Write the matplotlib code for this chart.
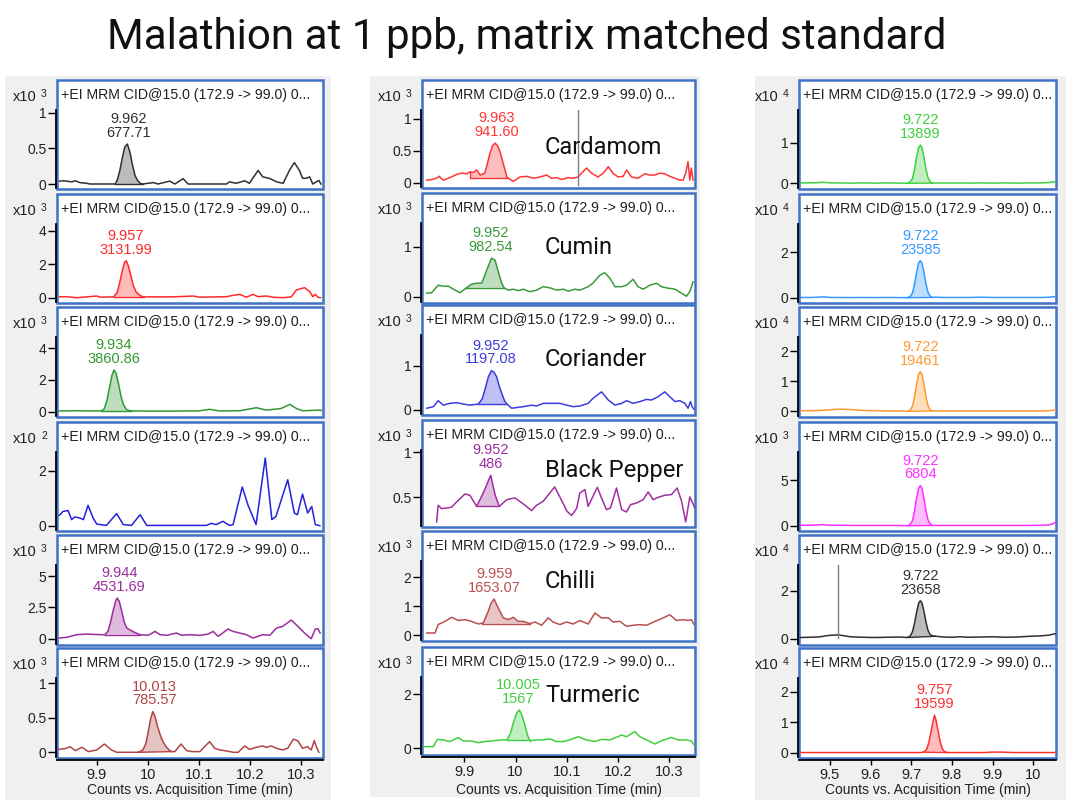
import numpy as np
import matplotlib
matplotlib.use("Agg")
import matplotlib.pyplot as plt
from matplotlib.patches import Rectangle

# ---------------------------------------------------------------- data
title = "Malathion at 1 ppb, matrix matched standard"
header = "+EI MRM CID@15.0 (172.9 -> 99.0) 0..."
xlabel = "Counts vs. Acquisition Time (min)"
spices = ["Cardamom", "Cumin", "Coriander", "Black Pepper", "Chilli", "Turmeric"]

xticks_lm = [9.9, 10.0, 10.1, 10.2, 10.3]
xticklabels_lm = ["9.9", "10", "10.1", "10.2", "10.3"]
xticks_r = [9.5, 9.6, 9.7, 9.8, 9.9, 10.0]
xticklabels_r = ["9.5", "9.6", "9.7", "9.8", "9.9", "10"]

# ---- left column
t_L1 = [9.827, 9.835, 9.841, 9.851, 9.858, 9.867, 9.880, 9.887, 9.936, 9.940, 9.945, 9.950, 9.955, 9.960,
        9.965, 9.970, 9.975, 9.980, 9.985, 9.990, 10.011, 10.020, 10.043, 10.053, 10.069, 10.079, 10.154,
        10.160, 10.173, 10.190, 10.199, 10.216, 10.225, 10.238, 10.252, 10.265, 10.278, 10.287, 10.297,
        10.303, 10.310, 10.317, 10.323, 10.330, 10.335, 10.339]
y_L1 = [0.04, 0.045, 0.04, 0.03, 0.045, 0.02, 0.01, 0.0, 0.0, 0.05, 0.18, 0.36, 0.52, 0.56, 0.45, 0.27,
        0.12, 0.05, 0.01, 0.0, 0.02, 0.0, 0.04, 0.0, 0.075, 0.0, 0.0, 0.03, 0.01, 0.045, 0.01, 0.19, 0.10,
        0.08, 0.03, 0.01, 0.20, 0.30, 0.19, 0.08, 0.08, 0.10, 0.0, 0.03, 0.05, 0.0]

t_L2 = [9.827, 9.841, 9.861, 9.900, 9.907, 9.933, 9.940, 9.945, 9.950, 9.955, 9.958, 9.962, 9.967, 9.972,
        9.977, 9.982, 9.987, 9.992, 10.004, 10.050, 10.089, 10.102, 10.154, 10.167, 10.180, 10.193, 10.206,
        10.216, 10.232, 10.245, 10.264, 10.281, 10.291, 10.307, 10.317, 10.323, 10.328, 10.333, 10.338]
y_L2 = [0.05, 0.06, 0.0, 0.10, 0.03, 0.05, 0.3, 0.9, 1.6, 2.15, 2.2, 1.9, 1.3, 0.7, 0.35, 0.2, 0.1, 0.05,
        0.05, 0.05, 0.10, 0.03, 0.06, 0.14, 0.20, 0.03, 0.20, 0.06, 0.10, 0.03, 0.0, 0.05, 0.46, 0.60, 0.36,
        0.06, 0.2, 0.03, 0.0]

t_L3 = [9.827, 9.86, 9.89, 9.905, 9.910, 9.915, 9.920, 9.925, 9.930, 9.934, 9.938, 9.943, 9.948, 9.953,
        9.958, 9.963, 9.968, 10.0, 10.05, 10.10, 10.121, 10.14, 10.18, 10.2125, 10.232, 10.261, 10.278,
        10.291, 10.303, 10.336, 10.34]
y_L3 = [0.05, 0.06, 0.05, 0.05, 0.05, 0.2, 0.7, 1.5, 2.3, 2.62, 2.4, 1.7, 0.9, 0.4, 0.15, 0.08, 0.05, 0.04,
        0.04, 0.05, 0.15, 0.05, 0.06, 0.25, 0.1, 0.2, 0.46, 0.2, 0.06, 0.1, 0.08]

t_L4 = [9.827, 9.834, 9.844, 9.851, 9.857, 9.867, 9.874, 9.883, 9.893, 9.900, 9.919, 9.939, 9.952, 9.968,
        9.985, 9.998, 10.115, 10.124, 10.134, 10.147, 10.160, 10.167, 10.185, 10.196, 10.212, 10.230,
        10.243, 10.251, 10.274, 10.287, 10.293, 10.303, 10.313, 10.321, 10.328, 10.337]
y_L4 = [0.38, 0.52, 0.55, 0.22, 0.32, 0.28, 0.22, 0.74, 0.28, 0.06, 0.01, 0.44, 0.04, 0.01, 0.40, 0.01,
        0.01, 0.085, 0.04, 0.16, 0.01, 0.04, 1.41, 0.76, 0.04, 2.46, 0.22, 0.34, 1.67, 0.46, 0.40, 1.15,
        0.46, 0.70, 0.04, 0.0]

t_L5 = [9.827, 9.841, 9.861, 9.880, 9.907, 9.916, 9.922, 9.927, 9.932, 9.937, 9.940, 9.944, 9.949, 9.954,
        9.959, 9.965, 9.972, 9.980, 9.985, 10.001, 10.014, 10.024, 10.037, 10.056, 10.066, 10.082, 10.102,
        10.118, 10.128, 10.1375, 10.144, 10.157, 10.167, 10.180, 10.193, 10.206, 10.225, 10.239, 10.252,
        10.264, 10.281, 10.294, 10.307, 10.320, 10.328, 10.333, 10.3375]
y_L5 = [0.05, 0.11, 0.32, 0.37, 0.32, 0.32, 0.6, 1.3, 2.2, 3.0, 3.24, 3.0, 2.2, 1.3, 0.85, 0.7, 0.55, 0.4,
        0.32, 0.27, 0.58, 0.32, 0.27, 0.45, 0.27, 0.32, 0.27, 0.37, 0.58, 0.19, 0.37, 0.77, 0.58, 0.45,
        0.32, 0.05, 0.32, 0.27, 0.85, 0.98, 1.49, 0.98, 0.45, 0.0, 0.77, 0.8, 0.45]

t_L6 = [9.827, 9.841, 9.848, 9.858, 9.871, 9.884, 9.900, 9.915, 9.929, 9.939, 9.981, 9.990, 9.996, 10.001,
        10.006, 10.010, 10.014, 10.019, 10.024, 10.030, 10.036, 10.042, 10.047, 10.053, 10.065, 10.076,
        10.086, 10.102, 10.121, 10.131, 10.141, 10.154, 10.167, 10.177, 10.190, 10.199, 10.2125, 10.225,
        10.232, 10.242, 10.252, 10.264, 10.274, 10.285, 10.294, 10.303, 10.313, 10.320, 10.326, 10.330,
        10.335]
y_L6 = [0.043, 0.058, 0.082, 0.024, 0.072, 0.01, 0.034, 0.12, 0.034, 0.0, 0.0, 0.03, 0.12, 0.3, 0.5, 0.59,
        0.52, 0.38, 0.26, 0.15, 0.08, 0.03, 0.01, 0.01, 0.12, 0.024, 0.01, 0.01, 0.155, 0.058, 0.034, 0.02,
        0.0, 0.0, 0.092, 0.043, 0.072, 0.092, 0.072, 0.092, 0.058, 0.034, 0.058, 0.19, 0.165, 0.058, 0.082,
        0.034, 0.17, 0.082, 0.0]

# ---- middle column
t_M1 = [9.8267, 9.8364, 9.846, 9.851, 9.859, 9.872, 9.885, 9.895, 9.905, 9.911, 9.9175, 9.924, 9.931,
        9.940, 9.945, 9.950, 9.955, 9.960, 9.965, 9.970, 9.976, 9.983, 9.986, 9.9955, 10.0086, 10.0216,
        10.0345, 10.0476, 10.0606, 10.070, 10.080, 10.090, 10.103, 10.1125, 10.122, 10.129, 10.1385,
        10.148, 10.161, 10.171, 10.181, 10.190, 10.200, 10.210, 10.2166, 10.2263, 10.239, 10.252, 10.262,
        10.272, 10.2817, 10.291, 10.301, 10.311, 10.3206, 10.327, 10.332, 10.3366, 10.340, 10.343, 10.3464]
y_M1 = [0.04, 0.05, 0.07, 0.10, 0.04, 0.08, 0.13, 0.15, 0.14, 0.17, 0.16, 0.20, 0.12, 0.15, 0.30, 0.46,
        0.58, 0.62, 0.58, 0.48, 0.30, 0.09, 0.07, 0.02, 0.09, 0.10, 0.07, 0.09, 0.12, 0.07, 0.08, 0.05, 0.08,
        0.07, 0.09, 0.15, 0.23, 0.15, 0.09, 0.15, 0.25, 0.15, 0.09, 0.10, 0.20, 0.09, 0.07, 0.14, 0.12, 0.12,
        0.15, 0.14, 0.10, 0.07, 0.04, 0.04, 0.15, 0.33, 0.04, 0.23, 0.04]

t_M2 = [9.8267, 9.8364, 9.849, 9.859, 9.869, 9.8786, 9.8916, 9.9033, 9.914, 9.924, 9.934, 9.9437, 9.953,
        9.960, 9.9663, 9.973, 9.9774, 9.986, 9.9955, 10.005, 10.0153, 10.028, 10.041, 10.054, 10.070,
        10.080, 10.093, 10.103, 10.116, 10.1255, 10.1417, 10.151, 10.1645, 10.174, 10.1841, 10.194, 10.207,
        10.2166, 10.2295, 10.239, 10.249, 10.262, 10.275, 10.2848, 10.2977, 10.311, 10.324, 10.3335,
        10.340, 10.3464]
y_M2 = [0.07, 0.08, 0.23, 0.21, 0.21, 0.15, 0.08, 0.17, 0.25, 0.27, 0.27, 0.53, 0.77, 0.73, 0.50, 0.27,
        0.18, 0.13, 0.15, 0.12, 0.15, 0.10, 0.13, 0.20, 0.17, 0.13, 0.15, 0.11, 0.15, 0.13, 0.20, 0.27, 0.43,
        0.48, 0.37, 0.20, 0.20, 0.23, 0.35, 0.20, 0.15, 0.23, 0.27, 0.20, 0.17, 0.15, 0.07, 0.01, 0.10, 0.30]

t_M3 = [9.8267, 9.8396, 9.849, 9.859, 9.872, 9.885, 9.898, 9.911, 9.9273, 9.935, 9.940, 9.947, 9.953,
        9.958, 9.963, 9.968, 9.973, 9.978, 9.983, 9.9924, 10.005, 10.0153, 10.0314, 10.041, 10.054, 10.070,
        10.0865, 10.0995, 10.1125, 10.1255, 10.1417, 10.151, 10.1677, 10.181, 10.194, 10.207, 10.2166,
        10.2295, 10.2425, 10.2555, 10.2652, 10.2782, 10.291, 10.301, 10.311, 10.3206, 10.3303, 10.3366,
        10.3413, 10.3445, 10.3484]
y_M3 = [0.04, 0.075, 0.21, 0.11, 0.15, 0.165, 0.135, 0.11, 0.135, 0.25, 0.45, 0.75, 0.89, 0.85, 0.75, 0.55,
        0.38, 0.22, 0.135, 0.04, 0.06, 0.075, 0.11, 0.09, 0.15, 0.15, 0.15, 0.11, 0.075, 0.09, 0.15, 0.26,
        0.41, 0.225, 0.11, 0.15, 0.21, 0.15, 0.19, 0.24, 0.225, 0.30, 0.41, 0.30, 0.19, 0.21, 0.15, 0.04,
        0.19, 0.075, 0.015]

t_M4 = [9.846, 9.849, 9.8556, 9.8653, 9.875, 9.885, 9.9014, 9.911, 9.924, 9.937, 9.9515, 9.960, 9.968,
        9.983, 9.9988, 10.0153, 10.0314, 10.041, 10.054, 10.0763, 10.0874, 10.1004, 10.1093, 10.1191,
        10.1255, 10.1353, 10.1417, 10.1595, 10.1677, 10.1774, 10.1852, 10.197, 10.207, 10.2166, 10.2243,
        10.236, 10.249, 10.2587, 10.2684, 10.2782, 10.291, 10.3043, 10.3153, 10.324, 10.332, 10.340,
        10.3464, 10.3497]
y_M4 = [0.228, 0.412, 0.375, 0.382, 0.39, 0.449, 0.537, 0.522, 0.40, 0.548, 0.743, 0.53, 0.40, 0.474,
        0.493, 0.426, 0.353, 0.412, 0.456, 0.614, 0.493, 0.346, 0.30, 0.375, 0.548, 0.585, 0.40, 0.61,
        0.493, 0.364, 0.382, 0.603, 0.364, 0.338, 0.419, 0.437, 0.474, 0.559, 0.474, 0.5, 0.522, 0.53,
        0.603, 0.456, 0.228, 0.504, 0.426, 0.382]

t_M5 = [9.8267, 9.8429, 9.849, 9.8624, 9.875, 9.8883, 9.9014, 9.914, 9.9273, 9.937, 9.9468, 9.952, 9.9579,
        9.962, 9.9663, 9.976, 9.986, 9.9955, 10.005, 10.0153, 10.028, 10.0378, 10.0509, 10.0637, 10.073,
        10.0865, 10.0995, 10.1125, 10.1255, 10.1417, 10.1548, 10.1677, 10.181, 10.190, 10.2035, 10.2166,
        10.2295, 10.2425, 10.2555, 10.272, 10.288, 10.301, 10.314, 10.327, 10.3366, 10.343, 10.3484]
y_M5 = [0.08, 0.08, 0.37, 0.48, 0.62, 0.51, 0.54, 0.48, 0.39, 0.425, 0.83, 1.1, 1.25, 1.1, 0.94, 0.60,
        0.54, 0.62, 0.48, 0.48, 0.40, 0.46, 0.345, 0.60, 0.46, 0.37, 0.46, 0.39, 0.51, 0.39, 0.77, 0.60,
        0.60, 0.46, 0.48, 0.31, 0.345, 0.37, 0.345, 0.48, 0.60, 0.71, 0.51, 0.54, 0.51, 0.54, 0.37]

t_M6 = [9.8214, 9.8396, 9.8474, 9.859, 9.872, 9.8883, 9.898, 9.914, 9.9273, 9.940, 9.9565, 9.973, 9.983,
        9.990, 9.9955, 10.002, 10.0072, 10.012, 10.0183, 10.023, 10.028, 10.041, 10.054, 10.067, 10.080,
        10.093, 10.106, 10.122, 10.1385, 10.1548, 10.1677, 10.1841, 10.197, 10.207, 10.2166, 10.2327,
        10.2425, 10.2555, 10.272, 10.2848, 10.3043, 10.3173, 10.3335, 10.343, 10.3484]
y_M6 = [0.06, 0.06, 0.33, 0.31, 0.25, 0.40, 0.27, 0.27, 0.21, 0.25, 0.28, 0.31, 0.31, 0.55, 0.93, 1.3,
        1.42, 1.25, 0.86, 0.5, 0.28, 0.31, 0.31, 0.35, 0.25, 0.25, 0.31, 0.43, 0.31, 0.25, 0.33, 0.31, 0.41,
        0.49, 0.43, 0.62, 0.43, 0.31, 0.16, 0.28, 0.40, 0.31, 0.31, 0.27, 0.12]

# ---- right column
t_right = [9.428, 9.45, 9.47, 9.48, 9.49, 9.50, 9.52, 9.55, 9.58, 9.61, 9.64, 9.67, 9.690, 9.697, 9.703,
           9.708, 9.713, 9.718, 9.722, 9.726, 9.731, 9.736, 9.741, 9.746, 9.752, 9.76, 9.78, 9.80, 9.82,
           9.84, 9.87, 9.90, 9.93, 9.96, 9.99, 10.02, 10.04, 10.048, 10.054]
y_R1 = [0.01, 0.01, 0.015, 0.025, 0.02, 0.01, 0.01, 0.005, 0.01, 0.005, 0.01, 0.005, 0.0, 0.03, 0.12, 0.35,
        0.65, 0.88, 0.94, 0.88, 0.65, 0.35, 0.14, 0.04, 0.005, 0.005, 0.01, 0.005, 0.01, 0.005, 0.01, 0.005,
        0.01, 0.005, 0.01, 0.01, 0.02, 0.04, 0.02]
y_R2 = [0.01, 0.01, 0.02, 0.04, 0.03, 0.01, 0.01, 0.005, 0.01, 0.005, 0.01, 0.005, 0.0, 0.05, 0.21, 0.60,
        1.12, 1.52, 1.62, 1.52, 1.12, 0.60, 0.24, 0.07, 0.01, 0.02, 0.01, 0.01, 0.01, 0.01, 0.02, 0.01, 0.01,
        0.01, 0.01, 0.01, 0.02, 0.05, 0.03]
y_R3 = [0.02, 0.02, 0.025, 0.03, 0.04, 0.05, 0.07, 0.06, 0.03, 0.02, 0.01, 0.01, 0.0, 0.04, 0.17, 0.49,
        0.91, 1.24, 1.32, 1.24, 0.91, 0.49, 0.19, 0.05, 0.01, 0.01, 0.01, 0.01, 0.01, 0.01, 0.01, 0.01, 0.01,
        0.01, 0.01, 0.01, 0.02, 0.04, 0.03]
y_R4 = [0.05, 0.05, 0.08, 0.12, 0.08, 0.05, 0.05, 0.03, 0.03, 0.03, 0.03, 0.03, 0.0, 0.14, 0.57, 1.64,
        3.05, 4.13, 4.41, 4.13, 3.05, 1.64, 0.66, 0.19, 0.03, 0.03, 0.03, 0.03, 0.03, 0.03, 0.03, 0.03, 0.03,
        0.03, 0.03, 0.05, 0.1, 0.2, 0.35]
y_R5 = [0.05, 0.06, 0.07, 0.09, 0.12, 0.14, 0.16, 0.08, 0.06, 0.05, 0.06, 0.07, 0.05, 0.10, 0.30, 0.65,
        1.10, 1.48, 1.58, 1.50, 1.15, 0.70, 0.35, 0.18, 0.12, 0.10, 0.07, 0.06, 0.08, 0.06, 0.07, 0.08, 0.06,
        0.07, 0.10, 0.12, 0.15, 0.19, 0.20]
t_R6 = [9.428, 9.47, 9.52, 9.57, 9.62, 9.67, 9.70, 9.725, 9.732, 9.738, 9.743, 9.748, 9.753, 9.757, 9.761,
        9.766, 9.771, 9.776, 9.781, 9.789, 9.80, 9.85, 9.88, 9.90, 9.92, 9.95, 10.0, 10.054]
y_R6 = [0.005, 0.005, 0.005, 0.005, 0.005, 0.005, 0.005, 0.005, 0.03, 0.12, 0.33, 0.66, 1.0, 1.23, 1.05,
        0.70, 0.36, 0.14, 0.04, 0.005, 0.005, 0.005, 0.005, 0.02, 0.02, 0.005, 0.005, 0.005]

# peak labels (retention time, area)
rt_left = ["9.962", "9.957", "9.934", None, "9.944", "10.013"]
area_left = ["677.71", "3131.99", "3860.86", None, "4531.69", "785.57"]
rt_mid = ["9.963", "9.952", "9.952", "9.952", "9.959", "10.005"]
area_mid = ["941.60", "982.54", "1197.08", "486", "1653.07", "1567"]
rt_right = ["9.722", "9.722", "9.722", "9.722", "9.722", "9.757"]
area_right = ["13899", "23585", "19461", "6804", "23658", "19599"]

# exponent of the y scale (x10^n)
exp_left = [3, 3, 3, 2, 3, 3]
exp_mid = [3, 3, 3, 3, 3, 3]
exp_right = [4, 4, 4, 3, 4, 4]

# ---------------------------------------------------------------- style / layout
W, H = 1069, 800
UI = ["Liberation Sans", "DejaVu Sans"]
NICE = ["Roboto", "DejaVu Sans"]
BOX_BLUE = "#3f72c5"
TXT = "#202020"


def fx(px):
    return px / W


def fy(py):
    return 1 - py / H


COLUMNS = [
    dict(bg=(5, 331, 76, 800), box_x=(57, 323),
         tops=[80, 194, 307, 422, 535, 648], bots=[189, 303, 417, 531, 645, 758],
         xcal=(9.9, 96.7, 10.3, 301.0), xticks=xticks_lm, xticklabels=xticklabels_lm,
         panels=[
             dict(t=t_L1, y=y_L1, c="#303030", exp=exp_left[0], yt=[0, 0.5, 1], ycal=(0, 184, 1, 112.7),
                  win=(9.936, 9.990, 0.0, 0.0), rt=rt_left[0], area=area_left[0]),
             dict(t=t_L2, y=y_L2, c="#ff2a2a", exp=exp_left[1], yt=[0, 2, 4], ycal=(0, 297.7, 4, 230.7),
                  win=(9.933, 9.992, 0.05, 0.05), rt=rt_left[1], area=area_left[1]),
             dict(t=t_L3, y=y_L3, c="#2f9a2f", exp=exp_left[2], yt=[0, 2, 4], ycal=(0, 411.7, 4, 348),
                  win=(9.908, 9.968, 0.05, 0.05), rt=rt_left[2], area=area_left[2]),
             dict(t=t_L4, y=y_L4, c="#2222dd", exp=exp_left[3], yt=[0, 2], ycal=(0, 525.7, 2, 470.7),
                  win=None, rt=rt_left[3], area=area_left[3]),
             dict(t=t_L5, y=y_L5, c="#9a2e9a", exp=exp_left[4], yt=[0, 2.5, 5], ycal=(0, 638.7, 5, 576),
                  win=(9.916, 9.985, 0.32, 0.32), rt=rt_left[4], area=area_left[4]),
             dict(t=t_L6, y=y_L6, c="#b04545", exp=exp_left[5], yt=[0, 0.5, 1], ycal=(0, 752.3, 1, 683.3),
                  win=(9.981, 10.047, 0.0, 0.01), rt=rt_left[5], area=area_left[5]),
         ]),
    dict(bg=(370, 700, 76, 797), box_x=(422, 695),
         tops=[80, 193, 305, 420, 531, 647], bots=[188, 303, 415, 527, 641, 755],
         xcal=(9.9, 464.3, 10.3, 669.3), xticks=xticks_lm, xticklabels=xticklabels_lm,
         panels=[
             dict(t=t_M1, y=y_M1, c="#ff3535", exp=exp_mid[0], yt=[0, 0.5, 1], ycal=(0, 182.7, 1, 119),
                  win=(9.911, 9.986, 0.07, 0.07), rt=rt_mid[0], area=area_mid[0], marker=10.122),
             dict(t=t_M2, y=y_M2, c="#3a9a3a", exp=exp_mid[1], yt=[0, 1], ycal=(0, 296.7, 1, 246.7),
                  win=(9.9033, 9.9774, 0.18, 0.18), rt=rt_mid[1], area=area_mid[1]),
             dict(t=t_M3, y=y_M3, c="#3c3ce0", exp=exp_mid[2], yt=[0, 1], ycal=(0, 410, 1, 365.7),
                  win=(9.9273, 9.983, 0.135, 0.135), rt=rt_mid[2], area=area_mid[2]),
             dict(t=t_M4, y=y_M4, c="#a030a0", exp=exp_mid[3], yt=[0.5, 1], ycal=(0.5, 497.3, 1, 452),
                  win=(9.924, 9.968, 0.40, 0.40), rt=rt_mid[3], area=area_mid[3]),
             dict(t=t_M5, y=y_M5, c="#b85050", exp=exp_mid[4], yt=[0, 1, 2], ycal=(0, 635.3, 2, 577.3),
                  win=(9.935, 10.028, 0.40, 0.40), rt=rt_mid[4], area=area_mid[4]),
             dict(t=t_M6, y=y_M6, c="#3fcf3f", exp=exp_mid[5], yt=[0, 2], ycal=(0, 748.3, 2, 694.3),
                  win=(9.983, 10.028, 0.30, 0.30), rt=rt_mid[5], area=area_mid[5]),
         ]),
    dict(bg=(755, 1066, 76, 800), box_x=(799, 1056),
         tops=[80, 194, 307, 422, 535, 648], bots=[189, 303, 417, 531, 645, 758],
         xcal=(9.5, 830.0, 10.0, 1033.3), xticks=xticks_r, xticklabels=xticklabels_r,
         panels=[
             dict(t=t_right, y=y_R1, c="#3fcf3f", exp=exp_right[0], yt=[0, 1], ycal=(0, 183.3, 1, 142.7),
                  win=(9.690, 9.752, None, None), rt=rt_right[0], area=area_right[0]),
             dict(t=t_right, y=y_R2, c="#3399ff", exp=exp_right[1], yt=[0, 2], ycal=(0, 297.7, 2, 252),
                  win=(9.690, 9.752, None, None), rt=rt_right[1], area=area_right[1]),
             dict(t=t_right, y=y_R3, c="#ff9a30", exp=exp_right[2], yt=[0, 1, 2], ycal=(0, 411.3, 2, 351.3),
                  win=(9.690, 9.752, None, None), rt=rt_right[2], area=area_right[2]),
             dict(t=t_right, y=y_R4, c="#ff30ff", exp=exp_right[3], yt=[0, 5], ycal=(0, 525.7, 5, 480.3),
                  win=(9.690, 9.752, None, None), rt=rt_right[3], area=area_right[3]),
             dict(t=t_right, y=y_R5, c="#303030", exp=exp_right[4], yt=[0, 2], ycal=(0, 638.7, 2, 590.7),
                  win=(9.690, 9.760, None, None), rt=rt_right[4], area=area_right[4], marker=9.520),
             dict(t=t_R6, y=y_R6, c="#ff3030", exp=exp_right[5], yt=[0, 1, 2], ycal=(0, 752.7, 2, 691.7),
                  win=(9.728, 9.789, None, None), rt=rt_right[5], area=area_right[5]),
         ]),
]

SPICE_X = 545
SPICE_Y = [148, 248, 359, 471, 581, 695]

# ---------------------------------------------------------------- drawing
fig = plt.figure(figsize=(W / 100, H / 100), dpi=100)
fig.patch.set_facecolor("white")

fig.text(fx(527), fy(38), title, ha="center", va="center", fontsize=30.3,
         family=NICE, fontweight="normal", color="#111111")

for ci, col in enumerate(COLUMNS):
    gx0, gx1, gy0, gy1 = col["bg"]
    fig.add_artist(Rectangle((fx(gx0), fy(gy1)), fx(gx1) - fx(gx0), fy(gy0) - fy(gy1),
                             transform=fig.transFigure, facecolor="#f0f0f0",
                             edgecolor="none", zorder=-3))
    bl, br = col["box_x"]
    v1, p1, v2, p2 = col["xcal"]
    sx = (v2 - v1) / (p2 - p1)
    xlim = (v1 + (bl - p1) * sx, v1 + (br - p1) * sx)
    n = len(col["panels"])
    for i, p in enumerate(col["panels"]):
        top, bot = col["tops"][i], col["bots"][i]
        fig.add_artist(Rectangle((fx(bl), fy(bot)), fx(br) - fx(bl), fy(top) - fy(bot),
                                 transform=fig.transFigure, facecolor="white",
                                 edgecolor=BOX_BLUE, lw=1.8, zorder=-1))
        a_top, a_bot = top + 30, bot - 1
        ax = fig.add_axes([fx(bl), fy(a_bot), fx(br) - fx(bl), fy(a_top) - fy(a_bot)])
        ax.patch.set_visible(False)
        yv1, yp1, yv2, yp2 = p["ycal"]
        sy = (yv2 - yv1) / (yp2 - yp1)
        ax.set_ylim(yv1 + (a_bot - yp1) * sy, yv1 + (a_top - yp1) * sy)
        ax.set_xlim(*xlim)

        t = np.asarray(p["t"], float)
        y = np.asarray(p["y"], float)
        ax.plot(t, y, color=p["c"], lw=1.1, solid_joinstyle="round", zorder=3)

        if p["win"] is not None:
            xs, xe, b0, b1 = p["win"]
            if b0 is None:
                b0 = float(np.interp(xs, t, y))
                b1 = float(np.interp(xe, t, y))
            inner = t[(t > xs) & (t < xe)]
            xx = np.concatenate([[xs], inner, [xe]])
            top_y = np.interp(xx, t, y)
            base = b0 + (xx - xs) * (b1 - b0) / (xe - xs)
            ax.fill_between(xx, base, top_y, facecolor=p["c"], alpha=0.32, lw=0, zorder=2)
            ax.plot([xs, xs, xe, xe], [top_y[0], b0, b1, top_y[-1]], color=p["c"], lw=1.0, zorder=3)
            if p["rt"] is not None:
                pk = float(np.max(top_y))
                ax.annotate(f"{p['rt']}\n{p['area']}", xy=(float(p["rt"]), pk), xytext=(0, 3),
                            textcoords="offset points", ha="center", va="bottom", fontsize=10.5,
                            color=p["c"], family=UI, linespacing=0.98, zorder=4)

        if p.get("marker") is not None:
            ax.axvline(p["marker"], ymin=0.02 if ci == 1 else 0.07, ymax=1.0,
                       color="#808080", lw=1.0, zorder=3)

        # axes styling
        for s in ("top", "right"):
            ax.spines[s].set_visible(False)
        ax.spines["left"].set_position(("outward", 1))
        ax.spines["left"].set_linewidth(1.3)
        ax.spines["left"].set_color("black")
        ax.set_yticks(p["yt"])
        ax.set_yticklabels([f"{v:g}" for v in p["yt"]], family=UI, fontsize=10, color=TXT)
        ax.tick_params(axis="y", direction="out", length=5.5, width=1.0, pad=1, colors="black",
                       labelcolor=TXT)
        if i == n - 1:
            ax.spines["bottom"].set_position(("outward", 2.5))
            ax.spines["bottom"].set_linewidth(1.3)
            ax.spines["bottom"].set_color("black")
            ax.set_xticks(col["xticks"])
            ax.set_xticklabels(col["xticklabels"], family=UI, fontsize=10.5, color=TXT)
            ax.tick_params(axis="x", direction="out", length=3.5, width=1.0, pad=2,
                           colors="black", labelcolor=TXT)
        else:
            ax.spines["bottom"].set_visible(False)
            ax.set_xticks([])

        # header and scale labels
        fig.text(fx(bl + 4), fy(top + 15), header, ha="left", va="center", fontsize=10.2,
                 family=UI, color=TXT)
        fig.text(fx(bl - 44), fy(top + 17), "x10", ha="left", va="center", fontsize=10.5,
                 family=UI, color=TXT)
        fig.text(fx(bl - 16), fy(top + 14), str(p["exp"]), ha="left", va="center", fontsize=7.5,
                 family=UI, color=TXT)

    fig.text(fx((bl + br) / 2), fy(790), xlabel, ha="center", va="center", fontsize=10,
             family=UI, color=TXT)

for name, sy_ in zip(spices, SPICE_Y):
    fig.text(fx(SPICE_X), fy(sy_), name, ha="left", va="center", fontsize=17, family=NICE,
             color="#111111")

fig.savefig("out.png", dpi=100, facecolor="white")
